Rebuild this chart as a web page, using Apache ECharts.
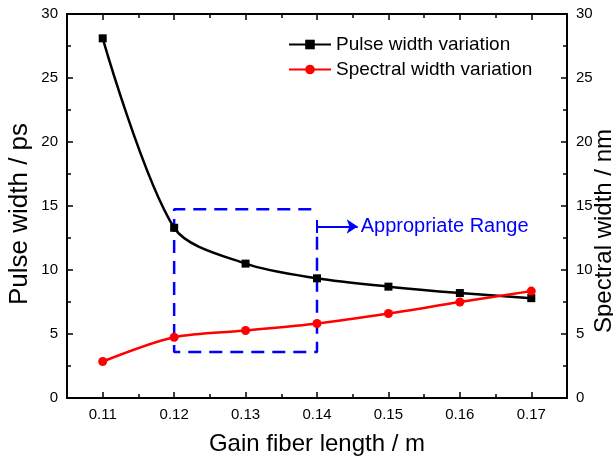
<!DOCTYPE html>
<html>
<head>
<meta charset="utf-8">
<script src="https://cdn.jsdelivr.net/npm/echarts@6/dist/echarts.min.js"></script>
<style>
  html, body { margin: 0; padding: 0; background: #fff; }
  #chart { width: 613px; height: 461px; }
</style>
</head>
<body>
<div id="chart"></div>
<script>
// Gain fiber length (m) and the measured widths
const lengths = [0.11, 0.12, 0.13, 0.14, 0.15, 0.16, 0.17];
const pulseWidth = [28.1, 13.3, 10.5, 9.35, 8.7, 8.2, 7.8];        // ps
const spectralWidth = [2.85, 4.75, 5.27, 5.82, 6.6, 7.5, 8.35];    // nm

// Axis ticks
const xMajorTicks = [0.11, 0.12, 0.13, 0.14, 0.15, 0.16, 0.17];
const xMinorTicks = [0.115, 0.125, 0.135, 0.145, 0.155, 0.165];
const xRange = [0.105, 0.175];
const yRange = [0, 30];

// "Appropriate Range" box and pointer arrow (data coordinates)
const rangeX = [0.12, 0.14];
const rangeY = [3.6, 14.75];
const rangeTopEnd = 0.1392;
const rangeRightTop = 12.6;
const arrowY = 13.4;
const arrowEndX = 0.1457;
const arrowTickY = [12.9, 13.9];

const FONT = "'Liberation Sans', Arial, sans-serif";
const BLUE = '#0000ff';

const toPairs = (xs, ys) => xs.map((x, i) => [x, ys[i]]);

const boxPath = [
  [rangeTopEnd, rangeY[1]],
  [rangeX[0], rangeY[1]],
  [rangeX[0], rangeY[0]],
  [rangeX[1], rangeY[0]],
  [rangeX[1], rangeRightTop]
];

function xAxisDef(position, ticks, len, showLabel, showLine) {
  return {
    type: 'value',
    position: position,
    min: xRange[0],
    max: xRange[1],
    axisLine: { show: showLine, onZero: false, lineStyle: { color: '#000', width: 2 } },
    axisTick: { show: true, inside: true, length: len, customValues: ticks,
                lineStyle: { color: '#000', width: 1.5 } },
    axisLabel: { show: showLabel, customValues: ticks, margin: 9,
                 fontSize: 15, color: '#000', fontFamily: FONT,
                 formatter: v => v.toFixed(2) },
    splitLine: { show: false }
  };
}

function yAxisDef(position, name, gap, size, shift) {
  return {
    type: 'value',
    position: position,
    min: yRange[0],
    max: yRange[1],
    interval: 5,
    name: name,
    nameLocation: 'middle',
    nameRotate: 90,
    nameGap: gap,
    nameMoveOverlap: false,
    nameTextStyle: { fontSize: size, color: '#000', fontFamily: FONT, padding: [0, shift, 0, 0] },
    axisLine: { show: true, lineStyle: { color: '#000', width: 2 } },
    axisTick: { show: true, inside: true, length: 6, lineStyle: { color: '#000', width: 1.5 } },
    minorTick: { show: true, splitNumber: 2, length: 4, lineStyle: { color: '#000', width: 1.5 } },
    axisLabel: { margin: 9, fontSize: 15, color: '#000', fontFamily: FONT },
    splitLine: { show: false },
    minorSplitLine: { show: false }
  };
}

const bottomAxis = xAxisDef('bottom', xMajorTicks, 6, true, true);
bottomAxis.name = 'Gain fiber length / m';
bottomAxis.nameLocation = 'middle';
bottomAxis.nameGap = 34;
bottomAxis.nameMoveOverlap = false;
bottomAxis.nameTextStyle = { fontSize: 24, color: '#000', fontFamily: FONT };

const option = {
  animation: false,
  backgroundColor: '#fff',
  textStyle: { fontFamily: FONT },
  grid: { left: 67, right: 46, top: 14, bottom: 63, outerBoundsMode: 'none', containLabel: false },
  legend: {
    data: ['Pulse width variation', 'Spectral width variation'],
    orient: 'vertical',
    left: 283,
    top: 30,
    itemWidth: 42,
    itemHeight: 12,
    itemGap: 6,
    textStyle: { fontSize: 19, color: '#000', fontFamily: FONT }
  },
  xAxis: [
    bottomAxis,
    xAxisDef('top', xMajorTicks, 6, false, true),
    xAxisDef('bottom', xMinorTicks, 4, false, false),
    xAxisDef('top', xMinorTicks, 4, false, false)
  ],
  yAxis: [
    yAxisDef('left', 'Pulse width / ps', 34, 26, 16),
    yAxisDef('right', 'Spectral width / nm', 25, 24, 50)
  ],
  series: [
    {
      name: 'Range box',
      type: 'line',
      xAxisIndex: 0,
      yAxisIndex: 0,
      data: boxPath,
      symbol: 'none',
      silent: true,
      z: 1,
      lineStyle: { color: BLUE, width: 2.5, type: [13, 8] },
      markLine: {
        silent: true,
        animation: false,
        data: [
          [
            { coord: [rangeX[1], arrowY], symbol: 'none',
              label: { show: true, position: 'end', formatter: 'Appropriate Range',
                       color: BLUE, fontSize: 20, fontFamily: FONT, distance: 3 } },
            { coord: [arrowEndX, arrowY], symbol: 'arrow', symbolSize: 11 }
          ],
          [
            { coord: [rangeX[1], arrowTickY[0]], symbol: 'none', label: { show: false } },
            { coord: [rangeX[1], arrowTickY[1]], symbol: 'none' }
          ]
        ],
        lineStyle: { color: BLUE, width: 2, type: 'solid' }
      }
    },
    {
      name: 'Pulse width variation',
      type: 'line',
      xAxisIndex: 0,
      yAxisIndex: 0,
      data: toPairs(lengths, pulseWidth),
      smooth: 0.3,
      symbol: 'rect',
      symbolSize: 8,
      z: 3,
      itemStyle: { color: '#000' },
      lineStyle: { color: '#000', width: 2.5 }
    },
    {
      name: 'Spectral width variation',
      type: 'line',
      xAxisIndex: 0,
      yAxisIndex: 1,
      data: toPairs(lengths, spectralWidth),
      smooth: 0.3,
      symbol: 'circle',
      symbolSize: 9,
      z: 3,
      itemStyle: { color: '#ff0000' },
      lineStyle: { color: '#ff0000', width: 2.5 }
    }
  ]
};

const chart = echarts.init(document.getElementById('chart'), null, { renderer: 'canvas' });
chart.setOption(option);
</script>
</body>
</html>
